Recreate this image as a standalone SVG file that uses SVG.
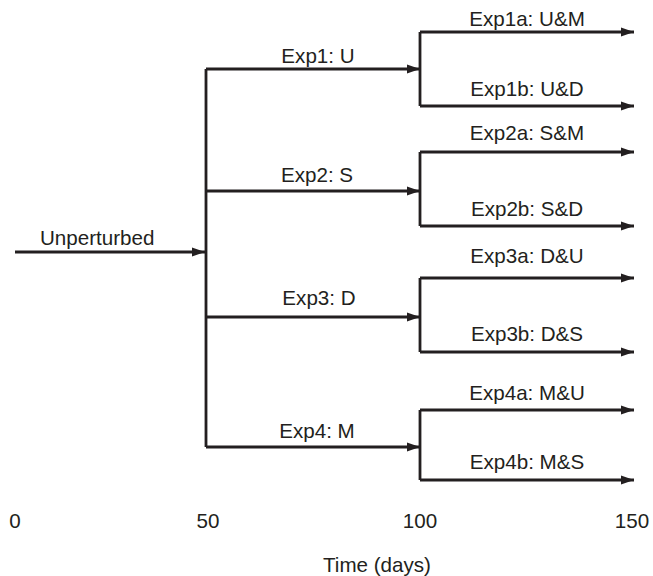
<svg xmlns="http://www.w3.org/2000/svg" width="653" height="576" viewBox="0 0 653 576">
<style>
text{font-family:"Liberation Sans",Arial,sans-serif;font-size:20.6px;fill:#231f20}
.m{text-anchor:middle}
.l{stroke:#231f20;stroke-width:2.8;fill:none}
.a{stroke:#231f20;stroke-width:2.8;fill:none;marker-end:url(#ah)}
</style>
<defs>
<marker id="ah" markerUnits="userSpaceOnUse" markerWidth="14" markerHeight="10" refX="13" refY="5" orient="auto">
<path d="M0,0.5 L13,5 L0,9.5 Z" fill="#231f20"/>
</marker>
</defs>
<g id="connectors">
<path class="a" d="M15,252 L205,252"/>
<path class="l" d="M206,447 L206,69"/>
<path class="a" d="M206,69 L420,69"/>
<path class="a" d="M206,191 L420,191"/>
<path class="a" d="M206,317 L420,317"/>
<path class="a" d="M206,447 L420,447"/>
<path class="l" d="M420,106 L420,32"/>
<path class="a" d="M420,32 L634,32"/>
<path class="a" d="M420,106 L634,106"/>
<path class="l" d="M420,226 L420,152"/>
<path class="a" d="M420,152 L634,152"/>
<path class="a" d="M420,226 L634,226"/>
<path class="l" d="M420,352 L420,278"/>
<path class="a" d="M420,278 L634,278"/>
<path class="a" d="M420,352 L634,352"/>
<path class="l" d="M420,480 L420,410"/>
<path class="a" d="M420,410 L634,410"/>
<path class="a" d="M420,480 L634,480"/>
</g>
<g id="unperturbed"><text x="40" y="245">Unperturbed</text></g>
<g id="exp1"><text class="m" x="318" y="63">Exp1: U</text></g>
<g id="exp2"><text class="m" x="317" y="182">Exp2: S</text></g>
<g id="exp3"><text class="m" x="319" y="305">Exp3: D</text></g>
<g id="exp4"><text class="m" x="317" y="438">Exp4: M</text></g>
<g id="exp1a"><text class="m" x="527" y="26">Exp1a: U&amp;M</text></g>
<g id="exp1b"><text class="m" x="527" y="96">Exp1b: U&amp;D</text></g>
<g id="exp2a"><text class="m" x="527" y="140">Exp2a: S&amp;M</text></g>
<g id="exp2b"><text class="m" x="527" y="216">Exp2b: S&amp;D</text></g>
<g id="exp3a"><text class="m" x="527" y="263">Exp3a: D&amp;U</text></g>
<g id="exp3b"><text class="m" x="527" y="341">Exp3b: D&amp;S</text></g>
<g id="exp4a"><text class="m" x="527" y="400">Exp4a: M&amp;U</text></g>
<g id="exp4b"><text class="m" x="527" y="469">Exp4b: M&amp;S</text></g>
<g id="axis">
<text class="m" x="15" y="528">0</text>
<text class="m" x="208" y="528">50</text>
<text class="m" x="420" y="528">100</text>
<text class="m" x="632" y="528">150</text>
<text class="m" x="377" y="572">Time (days)</text>
</g>
</svg>
